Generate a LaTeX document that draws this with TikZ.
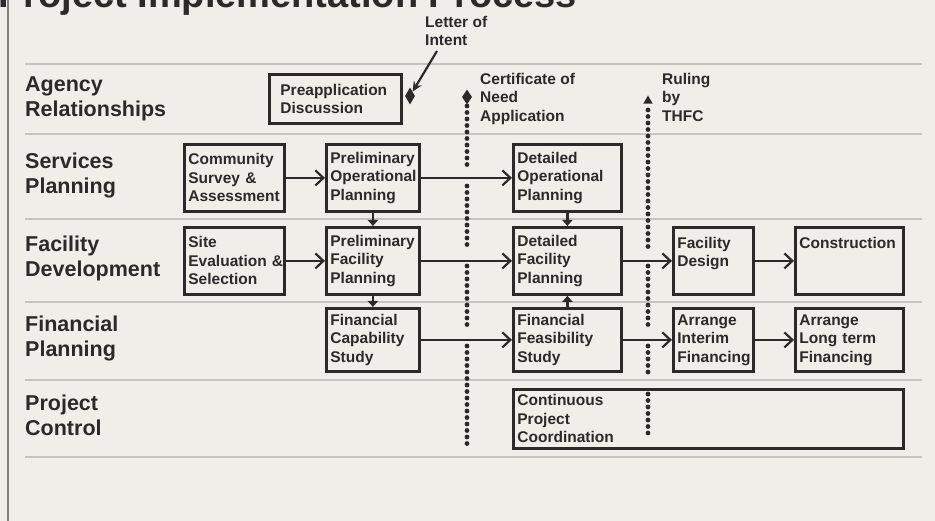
\documentclass[tikz,border=0pt]{standalone}
\usepackage{fontspec}
\setmainfont{Liberation Sans}
\usetikzlibrary{arrows.meta,shapes.geometric}
\tikzset{>=latex}
\definecolor{paper}{HTML}{F0EEE9}
\definecolor{ink}{HTML}{2A2A2A}
\definecolor{rulegray}{HTML}{C6C4BE}
\definecolor{framegray}{HTML}{85837E}
\newcommand{\stageFont}{\bfseries\fontsize{15.5}{18.5}\selectfont}
\newcommand{\laneFont}{\bfseries\fontsize{21.5}{25}\selectfont}
\tikzstyle{stage}    = [rectangle, draw=ink, line width=2.8pt, anchor=north west, align=left, inner xsep=4pt, inner ysep=2pt, font=\stageFont, text=ink]
\tikzstyle{lane}     = [anchor=west, align=left, font=\laneFont, text=ink, inner sep=0pt]
\tikzstyle{note}     = [anchor=north west, align=left, font=\stageFont, text=ink, inner sep=0pt]
\tikzstyle{gatemark} = [diamond, fill=ink, inner sep=0pt, minimum width=10pt, minimum height=17pt]
\tikzstyle{flow}     = [draw=ink, line width=2.2pt, -{Straight Barb[length=8pt,width=15pt]}]
\tikzstyle{handoff}  = [draw=ink, line width=2.2pt, -{Triangle[length=6pt,width=10pt]}]
\tikzstyle{pointer}  = [draw=ink, line width=2.2pt, -{Stealth[length=10pt,width=9pt]}]
\tikzstyle{gate}     = [draw=ink, line width=4.8pt, line cap=round, dash pattern=on 0pt off 6.5pt]
\tikzstyle{lanerule} = [draw=rulegray, line width=1.5pt]

\begin{document}
\begin{tikzpicture}[x=1pt, y=-1pt]
      \useasboundingbox (0,0) rectangle (935,521);
      \fill[paper] (0,0) rectangle (935,521);
      \draw[framegray, line width=2pt] (8,0) -- (8,521);
      \node[anchor=base west, font=\bfseries\fontsize{38}{40}\selectfont, text=ink, inner sep=0pt] (title) at (-2,8) {Project Implementation Process};
      % swim lanes
      \foreach \y in {64,134,219,302,380,457} \draw[lanerule] (25,\y) -- (922,\y);
      \node[lane] (agency)   at (25,99)  {Agency\\Relationships};
      \node[lane] (services) at (25,175) {Services\\Planning};
      \node[lane] (facility) at (25,258) {Facility\\Development};
      \node[lane] (finance)  at (25,338) {Financial\\Planning};
      \node[lane] (control)  at (25,415) {Project\\Control};
      % activities
      \node[stage, text width=110pt, inner xsep=11pt, minimum height=49pt] (pre) at (268,73) {Preapplication\\Discussion};
      \node[stage, text width=92pt,  minimum height=67pt] (com)      at (183,143) {Community\\Survey~\&\\Assessment};
      \node[stage, text width=85pt,  minimum height=67pt] (pop)      at (325,143) {Preliminary\\Operational\\Planning};
      \node[stage, text width=92pt,  minimum height=67pt] (site)     at (183,226) {Site\\Evaluation~\&\\Selection};
      \node[stage, text width=85pt,  minimum height=67pt] (pfac)     at (325,226) {Preliminary\\Facility\\Planning};
      \node[stage, text width=85pt,  minimum height=63pt] (fcap)     at (325,307) {Financial\\Capability\\Study};
      \node[stage, text width=100pt, minimum height=67pt] (dop)      at (512,143) {Detailed\\Operational\\Planning};
      \node[stage, text width=100pt, minimum height=67pt] (dfac)     at (512,226) {Detailed\\Facility\\Planning};
      \node[stage, text width=100pt, minimum height=63pt] (ffeas)    at (512,307) {Financial\\Feasibility\\Study};
      \node[stage, text width=72pt,  minimum height=67pt] (fdes)     at (672,226) {Facility\\Design\\~};
      \node[stage, text width=100pt, minimum height=67pt] (cons)     at (794,226) {Construction\\~\\~};
      \node[stage, text width=72pt,  minimum height=63pt] (interim)  at (672,307) {Arrange\\Interim\\Financing};
      \node[stage, text width=100pt, minimum height=63pt] (longterm) at (794,307) {Arrange\\Long~term\\Financing};
      \node[stage, text width=382pt, minimum height=59pt] (coord)    at (512,388) {Continuous\\Project\\Coordination};
      % milestones
      \node[note] (lettr) at (425,16) {Letter~of\\Intent};
      \node[note] (cert)  at (480,73) {Certificate~of\\Need\\Application};
      \node[note] (thfc)  at (662,73) {Ruling\\by\\THFC};
      \node[gatemark] (loi) at (410,96) {};
      \node[gatemark, minimum height=15pt] (con) at (467,97) {};
      \node[regular polygon, regular polygon sides=3, fill=ink, inner sep=0pt, minimum size=11pt] (rul) at (648,101) {};
      \coordinate (loitail) at (437,51);
      \foreach \ya/\yb in {106/168,186/248,266/326,346/450} \draw[gate] (467,\ya) -- (467,\yb);
      \foreach \ya/\yb in {110/248,266/328,346/378,394/438} \draw[gate] (648,\ya) -- (648,\yb);
      % connectors
      \draw[pointer] (loitail) -- (loi);
      \draw[flow] (com) -- (pop);
      \draw[flow] (site) -- (pfac);
      \draw[flow] (pop) -- (dop);
      \draw[flow] (pfac) -- (dfac);
      \draw[flow] (fcap) -- (ffeas);
      \draw[flow] (dfac) -- (fdes);
      \draw[flow] (fdes) -- (cons);
      \draw[flow] (ffeas) -- (interim);
      \draw[flow] (interim) -- (longterm);
      \draw[handoff] (pop) -- (pfac);
      \draw[handoff] (pfac) -- (fcap);
      \draw[handoff] (dop) -- (dfac);
      \draw[handoff] (ffeas) -- (dfac);
    \end{tikzpicture}
\end{document}
